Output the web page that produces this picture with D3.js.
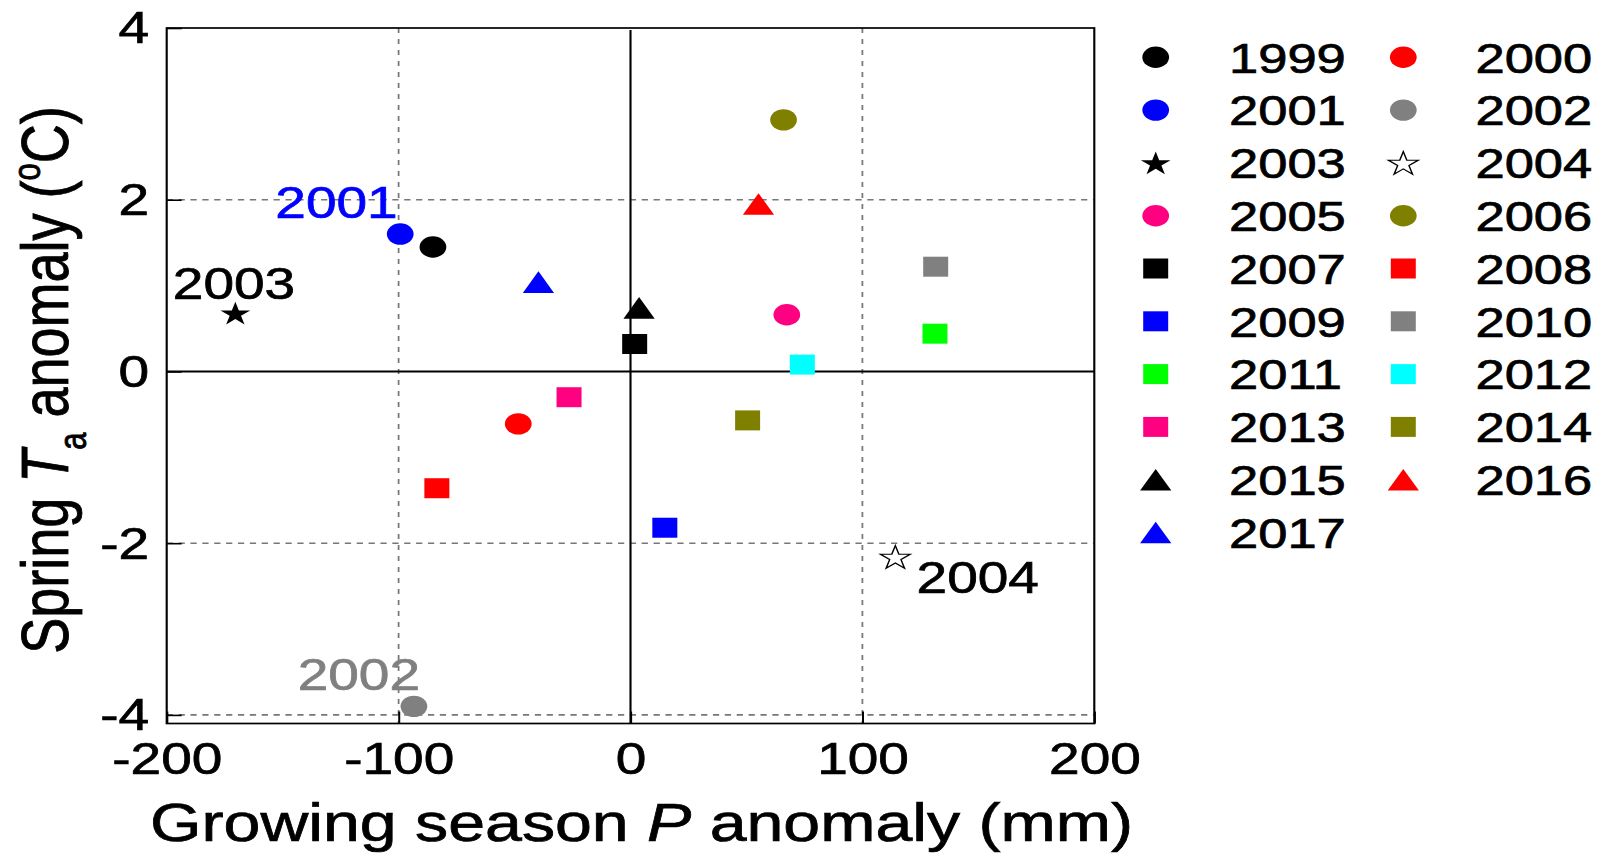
<!DOCTYPE html>
<html>
<head>
<meta charset="utf-8">
<script src="https://cdn.jsdelivr.net/npm/d3@7"></script>
<style>
	html, body { margin: 0; padding: 0; background: #fff; }
	svg { display: block; }
	text { font-family: "Liberation Sans", Arial, sans-serif; }
</style>
</head>
<body>
<div id="chart"></div>
<script>
// data
var years = [1999, 2000, 2001, 2002, 2003, 2004, 2005, 2006, 2007, 2008,
	2009, 2010, 2011, 2012, 2013, 2014, 2015, 2016, 2017];
var precipAnomaly = [-85.2, -48.4, -99.3, -93.4, -170.4, 114.2, 67.4, 66.0, 1.8, -83.5,
	14.8, 131.6, 131.3, 74.1, -26.5, 50.5, 3.7, 55.2, -39.7];
var tempAnomaly = [1.45, -0.61, 1.60, -3.90, 0.68, -2.16, 0.66, 2.93, 0.32, -1.36,
	-1.82, 1.22, 0.44, 0.08, -0.30, -0.57, 0.74, 1.95, 1.04];
var markerShapes = ["circle", "circle", "circle", "circle", "star", "openStar", "circle", "circle",
	"square", "square", "square", "square", "square", "square", "square", "square",
	"triangle", "triangle", "triangle"];
var markerColors = ["#000000", "#ff0000", "#0000ff", "#808080", "#000000", "#ffffff", "#ff0080", "#808000",
	"#000000", "#ff0000", "#0000ff", "#808080", "#00ff00", "#00ffff", "#ff0080", "#808000",
	"#000000", "#ff0000", "#0000ff"];
var labelledYears = [2001, 2002, 2003, 2004];
var labelColors = ["#0000ff", "#808080", "#000000", "#000000"];
var xTicks = [-200, -100, 0, 100, 200];
var yTicks = [-4, -2, 0, 2, 4];
var xGrid = [-100, 100];
var yGrid = [-4, -2, 2];

// the original figure is stretched sideways, so draw in a narrower box and stretch it
var stretch = 1.25;
var width = 1606, height = 853;
var vbWidth = width / stretch;
function sx(px) { return px / stretch; }

var plot = { left: sx(166.7), right: sx(1094.3), top: 28, bottom: 723.5 };

var x = d3.scaleLinear().domain([-200, 200]).range([plot.left, plot.right]);
var y = d3.scaleLinear().domain([-4.1, 4]).range([plot.bottom, plot.top]);

var points = years.map(function (yr, i) {
	return { year: yr, p: precipAnomaly[i], t: tempAnomaly[i], shape: markerShapes[i], color: markerColors[i] };
});

// label placement relative to its point
var labelOffsets = {
	2001: { anchor: "end", dx: -2, dy: -16 },
	2002: { anchor: "start", dx: -93, dy: -16 },
	2003: { anchor: "start", dx: -50, dy: -14 },
	2004: { anchor: "start", dx: 17, dy: 36 }
};

var triangleBox = {
	draw: function (ctx, size) {
		var s = Math.sqrt(size), h = s * Math.sqrt(3) / 2;
		ctx.moveTo(0, -h / 2);
		ctx.lineTo(s / 2, h / 2);
		ctx.lineTo(-s / 2, h / 2);
		ctx.closePath();
	}
};
var starBox = {
	draw: function (ctx, size) {
		var R = Math.sqrt(size), r = R * 0.382;
		var shift = R * (1 - Math.cos(Math.PI / 5)) / 2;
		for (var i = 0; i < 10; i++) {
			var a = -Math.PI / 2 + i * Math.PI / 5;
			var rad = (i % 2) ? r : R;
			var px = rad * Math.cos(a), py = rad * Math.sin(a) + shift;
			if (i === 0) ctx.moveTo(px, py); else ctx.lineTo(px, py);
		}
		ctx.closePath();
	}
};
var symbolFor = {
	circle: d3.symbol().type(d3.symbolCircle).size(Math.PI * 10.7 * 10.7),
	square: d3.symbol().type(d3.symbolSquare).size(20 * 20),
	triangle: d3.symbol().type(triangleBox).size(25 * 25),
	star: d3.symbol().type(starBox).size(12.5 * 12.5),
	openStar: d3.symbol().type(starBox).size(12.5 * 12.5)
};

function drawMarker(sel) {
	sel.attr("d", function (d) { return symbolFor[d.shape](); })
		.attr("fill", function (d) { return d.color; })
		.attr("stroke", function (d) { return d.shape === "openStar" ? "#000" : "none"; })
		.attr("stroke-width", 1.2);
}

// slightly heavier glyphs, like the original
function inked(sel, color) {
	sel.attr("fill", color).attr("stroke", color).attr("stroke-width", 0.7);
}

var svg = d3.select("#chart").append("svg")
	.attr("width", width)
	.attr("height", height)
	.attr("viewBox", "0 0 " + vbWidth + " " + height)
	.attr("preserveAspectRatio", "none");

svg.append("rect").attr("width", vbWidth).attr("height", height).attr("fill", "#fff");

// dashed grid
svg.append("g").selectAll("line").data(xGrid).enter().append("line")
	.attr("x1", function (d) { return x(d); }).attr("x2", function (d) { return x(d); })
	.attr("y1", plot.top).attr("y2", plot.bottom)
	.attr("stroke", "#777").attr("stroke-width", 1.4).attr("stroke-dasharray", "5,6");
svg.append("g").selectAll("line").data(yGrid).enter().append("line")
	.attr("x1", plot.left).attr("x2", plot.right)
	.attr("y1", function (d) { return y(d); }).attr("y2", function (d) { return y(d); })
	.attr("stroke", "#777").attr("stroke-width", 1.6).attr("stroke-dasharray", "5,4.5");

// zero lines
svg.append("line").attr("x1", x(0)).attr("x2", x(0)).attr("y1", plot.top + 2).attr("y2", plot.bottom)
	.attr("stroke", "#000").attr("stroke-width", 1.7);
svg.append("line").attr("x1", plot.left).attr("x2", plot.right).attr("y1", y(0)).attr("y2", y(0))
	.attr("stroke", "#000").attr("stroke-width", 2);

// axes with inward ticks
var xAxis = svg.append("g")
	.attr("transform", "translate(0," + plot.bottom + ")")
	.call(d3.axisBottom(x).tickValues(xTicks).tickSizeInner(-12).tickSizeOuter(0).tickPadding(19)
		.tickFormat(d3.format("d")));
var yAxis = svg.append("g")
	.attr("transform", "translate(" + plot.left + ",0)")
	.call(d3.axisLeft(y).tickValues(yTicks).tickSizeInner(-sx(15)).tickSizeOuter(0).tickPadding(14)
		.tickFormat(d3.format("d")));
[xAxis, yAxis].forEach(function (ax) {
	ax.select(".domain").remove();
	ax.selectAll(".tick line").attr("stroke", "#000").attr("stroke-width", 1.6);
	ax.selectAll(".tick text").attr("font-size", 44).call(inked, "#000")
		.text(function (d) { return d < 0 ? "-" + Math.abs(d) : d; });
});
yAxis.selectAll(".tick text").attr("dy", "0.34em");

// frame
svg.append("rect")
	.attr("x", plot.left).attr("y", plot.top)
	.attr("width", plot.right - plot.left).attr("height", plot.bottom - plot.top)
	.attr("fill", "none").attr("stroke", "#000").attr("stroke-width", 1.7);

// points
svg.append("g").selectAll("path").data(points).enter().append("path")
	.attr("transform", function (d) { return "translate(" + x(d.p) + "," + y(d.t) + ")"; })
	.call(drawMarker);

// year labels next to some points
svg.append("g").selectAll("text").data(labelledYears).enter().append("text")
	.attr("x", function (yr) { var i = years.indexOf(yr); return x(precipAnomaly[i]) + labelOffsets[yr].dx; })
	.attr("y", function (yr) { var i = years.indexOf(yr); return y(tempAnomaly[i]) + labelOffsets[yr].dy; })
	.attr("text-anchor", function (yr) { return labelOffsets[yr].anchor; })
	.attr("fill", function (yr, i) { return labelColors[i]; })
	.attr("stroke", function (yr, i) { return labelColors[i]; })
	.attr("stroke-width", 0.7)
	.attr("font-size", 44)
	.text(function (yr) { return yr; });

// legend, two columns
var legend = svg.append("g");
var legendRow = 52.8, legendTop = 57.3;
var legendCols = [{ mark: sx(1155.7), text: sx(1229) }, { mark: sx(1403.3), text: sx(1475.5) }];
var items = legend.selectAll("g").data(points).enter().append("g")
	.attr("transform", function (d, i) {
		return "translate(0," + (legendTop + Math.floor(i / 2) * legendRow) + ")";
	});
items.append("path")
	.attr("transform", function (d, i) { return "translate(" + legendCols[i % 2].mark + ",0)"; })
	.call(drawMarker);
items.append("text")
	.attr("x", function (d, i) { return legendCols[i % 2].text; })
	.attr("y", 15.2)
	.attr("font-size", 42)
	.call(inked, "#000")
	.text(function (d) { return d.year; });

// axis titles
var xTitle = svg.append("text")
	.attr("x", sx(641.5)).attr("y", 841)
	.attr("text-anchor", "middle").attr("font-size", 53).call(inked, "#000");
xTitle.append("tspan").text("Growing season ");
xTitle.append("tspan").attr("font-style", "italic").text("P");
xTitle.append("tspan").text(" anomaly (mm)");

var yTitle = svg.append("text")
	.attr("transform", "translate(" + sx(68.3) + ",380) rotate(-90)")
	.attr("text-anchor", "middle").attr("font-size", 54).call(inked, "#000");
yTitle.append("tspan").text("Spring ");
yTitle.append("tspan").attr("font-style", "italic").text("T");
yTitle.append("tspan").attr("font-size", 31).attr("dy", 14).text("a");
yTitle.append("tspan").attr("dy", -14).text(" anomaly (");
yTitle.append("tspan").attr("font-size", 31).attr("dy", -23).text("o");
yTitle.append("tspan").attr("dy", 23).text("C)");
</script>
</body>
</html>
